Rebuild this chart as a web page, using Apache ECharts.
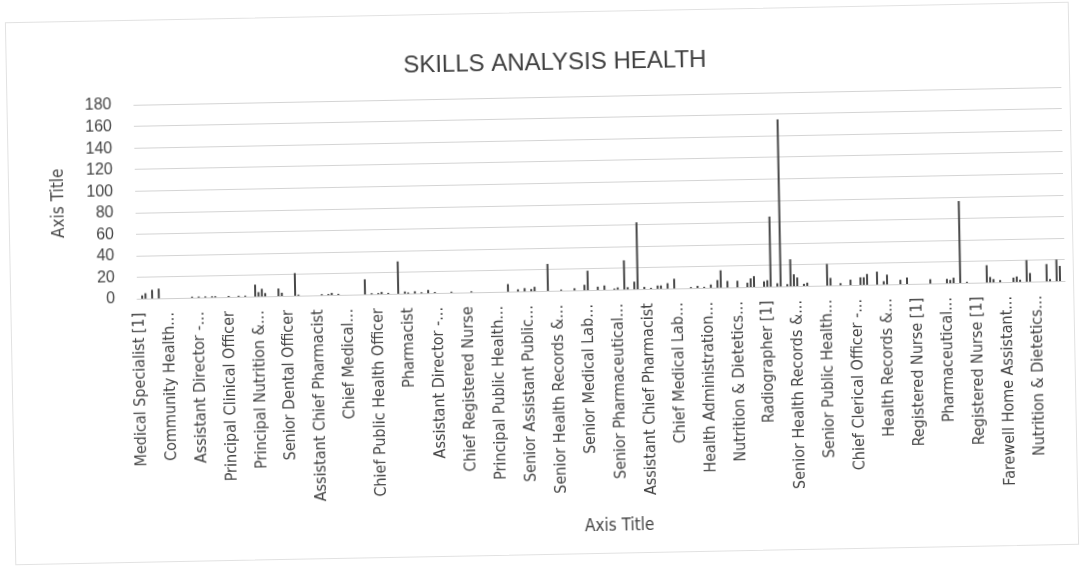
<!DOCTYPE html>
<html>
<head>
<meta charset="utf-8">
<title>Skills Analysis Health</title>
<script src="https://cdn.jsdelivr.net/npm/echarts@6.0.0/dist/echarts.min.js"></script>
<style>
  html, body { margin: 0; padding: 0; background: #fff; overflow: hidden; }
  #wrap { position: relative; width: 1084px; height: 567px; transform: rotate(-1.1deg); }
  #frame { position: absolute; left: 10px; top: 12px; width: 1064px; height: 543px; border: 1px solid #e2e2e2; box-sizing: border-box; }
  #chart { position: absolute; left: 0; top: 0; width: 1084px; height: 567px; }
</style>
</head>
<body>
<div id="wrap">
  <div id="frame"></div>
  <div id="chart"></div>
</div>
<script>
// labels Excel shows (every 9th category), the rest are hidden
const tickLabels = [
  'Medical Specialist [1]', 'Community Health...', 'Assistant Director -...', 'Principal Clinical Officer',
  'Principal Nutrition &...', 'Senior Dental Officer', 'Assistant Chief Pharmacist', 'Chief Medical...',
  'Chief Public Health Officer', 'Pharmacist', 'Assistant Director -...', 'Chief Registered Nurse',
  'Principal Public Health...', 'Senior Assistant Public...', 'Senior Health Records &...', 'Senior Medical Lab...',
  'Senior Pharmaceutical...', 'Assistant Chief Pharmacist', 'Chief Medical Lab...', 'Health Administration...',
  'Nutrition & Dietetics...', 'Radiographer [1]', 'Senior Health Records &...', 'Senior Public Health...',
  'Chief Clerical Officer -...', 'Health Records &...', 'Registered Nurse [1]', 'Pharmaceutical...',
  'Registered Nurse [1]', 'Farewell Home Assistant...', 'Nutrition & Dietetics...'
];
const labelStep = 9;

// counts per category
const values = [
  0, 3, 5, 0, 8, 0, 9, 0, 0, 0, 0, 0, 0, 0, 0, 0, 1, 0, 1, 0,
  1, 0, 1, 1, 0, 0, 0, 1, 0, 0, 1, 0, 1, 0, 0, 11, 4, 7, 3, 0,
  0, 0, 7, 3, 0, 0, 0, 21, 1, 0, 0, 0, 0, 0, 0, 1, 0, 1, 2, 0,
  1, 0, 0, 0, 0, 0, 0, 0, 14, 0, 1, 0, 1, 2, 0, 1, 0, 0, 30, 0,
  2, 1, 0, 2, 0, 1, 0, 3, 0, 1, 0, 0, 0, 0, 1, 0, 0, 0, 0, 0,
  1, 0, 0, 0, 0, 0, 0, 0, 0, 0, 0, 7, 0, 0, 2, 0, 3, 0, 2, 4,
  0, 0, 0, 25, 0, 0, 0, 1, 0, 0, 0, 2, 0, 0, 5, 18, 0, 0, 3, 0,
  4, 0, 0, 1, 2, 0, 27, 2, 0, 7, 62, 0, 2, 0, 1, 0, 3, 3, 0, 5,
  0, 9, 0, 0, 0, 0, 1, 0, 2, 0, 1, 0, 3, 0, 7, 16, 0, 6, 0, 0,
  6, 0, 0, 4, 8, 10, 0, 0, 5, 6, 65, 0, 3, 155, 0, 2, 25, 11, 8, 0,
  2, 3, 0, 0, 0, 0, 0, 20, 7, 0, 0, 2, 0, 0, 5, 0, 0, 7, 7, 10,
  0, 0, 12, 0, 3, 9, 0, 0, 0, 4, 0, 6, 0, 0, 0, 0, 0, 0, 4, 0,
  0, 0, 0, 4, 3, 5, 0, 76, 0, 1, 0, 0, 0, 0, 0, 16, 5, 3, 0, 2,
  0, 0, 0, 4, 5, 2, 0, 20, 8, 0, 0, 0, 0, 16, 2, 0, 20, 14, 0
];

const yTicks = { min: 0, max: 180, interval: 20 };

const categories = values.map((v, i) => (i % labelStep === 0 ? tickLabels[i / labelStep] : ''));

const textColor = '#454545';
const narrow = "'Liberation Sans Narrow', 'DejaVu Sans Condensed', sans-serif";

let myChart = echarts.init(document.getElementById('chart'));
let option = {
  animation: false,
  backgroundColor: 'transparent',
  title: {
    text: 'SKILLS ANALYSIS HEALTH',
    left: 554,
    top: 46,
    textAlign: 'center',
    textStyle: { color: '#3f3f3f', fontSize: 24, fontWeight: 'normal', fontFamily: "'Liberation Sans', sans-serif" }
  },
  grid: { left: 137, right: 19, top: 97, bottom: 276, containLabel: false },
  xAxis: {
    type: 'category',
    data: categories,
    name: 'Axis Title',
    nameLocation: 'middle',
    nameGap: 228,
    nameTextStyle: { color: textColor, fontSize: 17, fontFamily: narrow, padding: [0, 0, 0, 28] },
    axisLine: { lineStyle: { color: '#cfcfcf' } },
    axisTick: { show: false },
    axisLabel: {
      interval: labelStep - 1,
      rotate: 90,
      margin: 14,
      color: textColor,
      fontSize: 16,
      fontFamily: narrow
    },
    splitLine: { show: false }
  },
  yAxis: {
    type: 'value',
    min: yTicks.min,
    max: yTicks.max,
    interval: yTicks.interval,
    name: 'Axis Title',
    nameLocation: 'middle',
    nameRotate: 90,
    nameGap: 68,
    nameTextStyle: { color: textColor, fontSize: 17, fontFamily: narrow },
    axisLine: { show: false },
    axisTick: { show: false },
    axisLabel: { color: textColor, fontSize: 16, margin: 22, fontFamily: "'Liberation Sans', sans-serif" },
    splitLine: { lineStyle: { color: '#d4d4d4', width: 1 } }
  },
  series: [
    {
      type: 'bar',
      data: values,
      barWidth: 2,
      itemStyle: { color: '#484848' }
    }
  ]
};
myChart.setOption(option);
</script>
</body>
</html>
